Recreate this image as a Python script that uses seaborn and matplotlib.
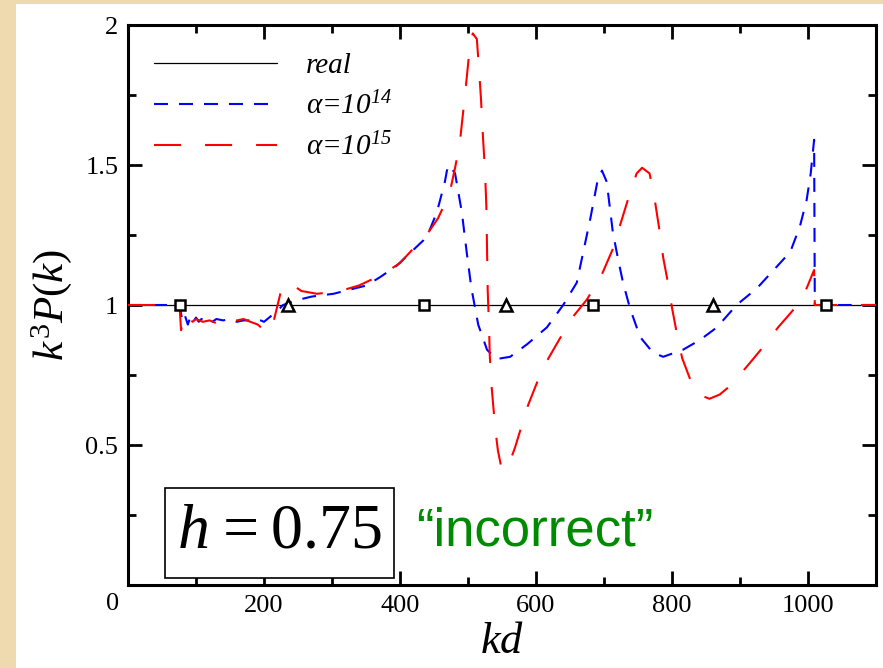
import numpy as np
import pandas as pd
import matplotlib
matplotlib.use("Agg")
import matplotlib.pyplot as plt
from matplotlib.lines import Line2D
from matplotlib.patches import Rectangle
from matplotlib.ticker import MultipleLocator, FixedLocator, FixedFormatter
import seaborn as sns

# ---------------- data ----------------
real_x = [0, 1100]
real_y = [1.0, 1.0]

square_x = [76, 435, 684, 1026]
triangle_x = [235, 556, 860]

blue_x = [0, 70, 76, 80, 84, 88, 92, 96, 100, 104, 108, 112, 118, 124, 130, 140,
          150, 160, 170, 180, 190, 200, 210, 220, 228, 240, 253, 270, 302, 351,
          371, 395, 434, 444, 454, 459, 466, 469, 472, 481, 491, 498, 505, 515,
          528, 542, 562, 587, 616, 640, 660, 680, 691, 697, 704, 713, 721, 728,
          738, 753, 772, 787, 816, 841, 866, 895, 925, 959, 974, 988, 998, 1004,
          1009, 1010, 1020, 1100]
blue_y = [1.0, 1.0, 1.0, 0.94, 0.96, 0.93, 0.96, 0.94, 0.955, 0.94, 0.95, 0.945,
          0.95, 0.94, 0.95, 0.945, 0.95, 0.94, 0.945, 0.945, 0.95, 0.94, 0.96,
          0.98, 1.0, 1.01, 1.02, 1.03, 1.04, 1.07, 1.10, 1.14, 1.23, 1.27, 1.33,
          1.375, 1.44, 1.48, 1.50, 1.47, 1.33, 1.19, 1.06, 0.93, 0.84, 0.807,
          0.815, 0.86, 0.92, 1.0, 1.08, 1.31, 1.45, 1.48, 1.44, 1.26, 1.16, 1.08,
          0.99, 0.886, 0.83, 0.815, 0.84, 0.875, 0.92, 1.0, 1.06, 1.15, 1.19,
          1.28, 1.375, 1.47, 1.59, 1.0, 1.0, 1.0]

red_x = [0, 72, 76, 78, 82, 86, 90, 95, 100, 110, 120, 130, 135, 140, 150, 160,
         170, 180, 191, 200, 206, 212, 218, 224, 230, 235, 243, 255, 278, 312,
         340, 375, 400, 419, 439, 456, 473, 481, 488, 496, 503, 507, 513, 516,
         519, 522, 525, 527, 528, 529, 531, 532, 535, 540, 544, 549, 553, 560,
         569, 588, 601, 616, 635, 655, 675, 697, 713, 723, 735, 748, 756, 767,
         775, 782, 787, 794, 800, 807, 815, 829, 840, 855, 870, 885, 910, 934,
         956, 981, 998, 1009, 1010, 1020, 1100]
red_y = [1.0, 1.0, 0.99, 0.91, 0.95, 0.93, 0.95, 0.94, 0.95, 0.94, 0.945, 0.935,
         0.95, 0.94, 0.95, 0.945, 0.95, 0.94, 0.93, 0.91, 0.90, 0.92, 0.98, 1.04,
         1.07, 1.08, 1.07, 1.05, 1.04, 1.05, 1.07, 1.11, 1.15, 1.20, 1.25, 1.31,
         1.40, 1.49, 1.58, 1.76, 1.93, 1.97, 1.95, 1.85, 1.74, 1.60, 1.48, 1.35,
         1.20, 1.05, 0.92, 0.82, 0.70, 0.56, 0.48, 0.42, 0.41, 0.43, 0.49, 0.64,
         0.72, 0.80, 0.88, 0.96, 1.02, 1.11, 1.20, 1.28, 1.375, 1.47, 1.49, 1.47,
         1.37, 1.26, 1.17, 1.08, 0.99, 0.90, 0.81, 0.72, 0.68, 0.665, 0.68, 0.71,
         0.78, 0.85, 0.92, 0.99, 1.06, 1.125, 1.0, 1.0, 1.0]

x_ticks = [200, 400, 600, 800, 1000]
y_ticks = [0.5, 1.0, 1.5, 2.0]
y_ticklabels = ["0.5", "1", "1.5", "2"]
legend_labels = ["real", r"$\alpha$=10$^{14}$", r"$\alpha$=10$^{15}$"]

# ---------------- style ----------------
sns.set_theme(style="ticks")
plt.rcParams["font.family"] = ["Liberation Serif", "DejaVu Serif"]
plt.rcParams["mathtext.fontset"] = "custom"
# math "rm" is italic here (superscript digits are italic); \mathsf gives upright
plt.rcParams["mathtext.rm"] = "Liberation Serif:italic"
plt.rcParams["mathtext.it"] = "Liberation Serif:italic"
plt.rcParams["mathtext.sf"] = "Liberation Serif"
plt.rcParams["mathtext.bf"] = "Liberation Serif:bold"
for key in ["text.color", "axes.labelcolor", "xtick.color", "ytick.color",
            "xtick.labelcolor", "ytick.labelcolor"]:
    plt.rcParams[key] = "black"

W, H = 883, 668
fig = plt.figure(figsize=(W / 100, H / 100), dpi=100)
fig.patch.set_facecolor("#efdab0")
panel = Rectangle((16 / W, 0), 1 - 16 / W, 664 / H, transform=fig.transFigure,
                  facecolor="white", edgecolor="none", zorder=-5)
fig.add_artist(panel)

ax = fig.add_axes([128 / W, 83 / H, 748 / W, 560 / H])
ax.set_zorder(1)
ax.set_facecolor("white")

blue_ls = (0, (6.7, 5.3))
red_ls = (0, (13, 11.5))

sns.lineplot(x=real_x, y=real_y, ax=ax, color="black", linewidth=0.9,
             estimator=None, sort=False, zorder=2)
sns.lineplot(x=blue_x, y=blue_y, ax=ax, color="#0000ff", linewidth=1.5,
             linestyle=blue_ls, estimator=None, sort=False, zorder=3)
sns.lineplot(x=red_x, y=red_y, ax=ax, color="#ff0000", linewidth=1.5,
             linestyle=red_ls, estimator=None, sort=False, zorder=3)

ax.plot(square_x, [1.0] * len(square_x), linestyle="none", marker="s", ms=7.5,
        mfc="white", mec="black", mew=1.8, zorder=5)
ax.plot(triangle_x, [1.0] * len(triangle_x), linestyle="none", marker="^", ms=8,
        mfc="white", mec="black", mew=1.8, zorder=5)

ax.set_xlim(0, 1100)
ax.set_ylim(0, 2)

ax.xaxis.set_major_locator(FixedLocator(x_ticks))
ax.xaxis.set_minor_locator(MultipleLocator(100))
ax.yaxis.set_major_locator(FixedLocator(y_ticks))
ax.yaxis.set_major_formatter(FixedFormatter(y_ticklabels))
ax.yaxis.set_minor_locator(MultipleLocator(0.25))

for s in ax.spines.values():
    s.set_linewidth(2.2)
    s.set_color("black")
    s.set_visible(True)

ax.tick_params(which="both", direction="in", top=True, right=True, color="black",
               width=2.0, labelsize=19, labelcolor="black")
ax.tick_params(which="major", length=10, pad=7)
ax.tick_params(which="minor", length=6)

ax.annotate("0", xy=(0, 0), xycoords="data", xytext=(-11, -5.5),
            textcoords="offset points", ha="center", va="top", fontsize=19)

ax.set_xlabel(r"$kd$", fontsize=32, labelpad=4)
ax.set_ylabel(r"$k^{\mathsf{3}}P\mathsf{(}k\mathsf{)}$", fontsize=31, labelpad=8)

handles = [
    Line2D([], [], color="black", linewidth=0.9),
    Line2D([], [], color="#0000ff", linewidth=1.5, linestyle=blue_ls),
    Line2D([], [], color="#ff0000", linewidth=1.5, linestyle=red_ls),
]
ax.legend(handles, legend_labels, loc="upper left", bbox_to_anchor=(0.0, 0.997),
          frameon=False, prop={"size": 21, "style": "italic", "family": "Liberation Serif"},
          handlelength=4.2, handletextpad=1.0, labelspacing=0.42, borderaxespad=0.5)

ax.add_patch(Rectangle((54, 0.025), 337, 0.321, facecolor="white", edgecolor="black",
                       linewidth=1.2, zorder=6))
ax.text(222, 0.186, r"$h = \mathsf{0.75}$", fontsize=46, ha="center", va="center",
        zorder=7)
ax.text(598, 0.19, "\u201cincorrect\u201d", fontsize=38, color="#008a00",
        family=["Liberation Sans", "DejaVu Sans"], ha="center", va="center", zorder=7)

fig.savefig("out.png", dpi=100, facecolor=fig.get_facecolor())
